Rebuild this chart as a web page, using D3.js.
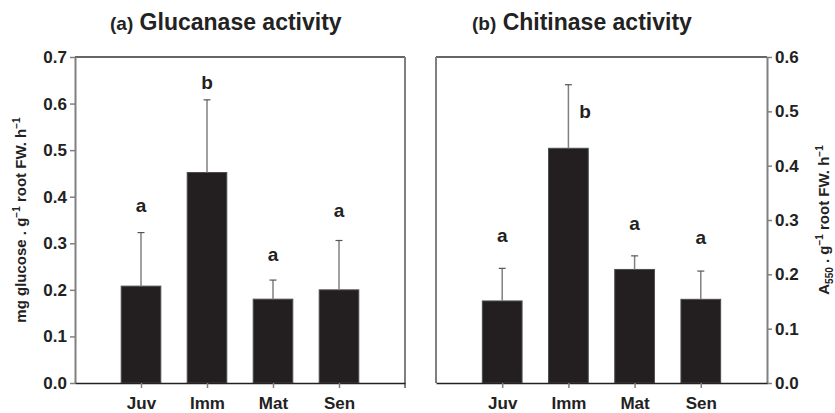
<!DOCTYPE html>
<html>
<head>
<meta charset="utf-8">
<script src="https://cdn.jsdelivr.net/npm/d3@7"></script>
<style>
  body { margin: 0; background: #fff; }
  svg { font-family: "Liberation Sans", Arial, sans-serif; font-weight: bold; }
</style>
</head>
<body>
<svg id="chart" width="835" height="413"></svg>
<script>
const categories = ["Juv", "Imm", "Mat", "Sen"];

// (a) glucanase
const glucMean = [0.208, 0.452, 0.18, 0.2];
const glucErr = [0.323, 0.608, 0.221, 0.306];
const glucLetters = ["a", "b", "a", "a"];
const glucLetterY = [0.367, 0.631, 0.262, 0.356];
const glucTicks = [0, 0.1, 0.2, 0.3, 0.4, 0.5, 0.6, 0.7];

// (b) chitinase
const chitMean = [0.151, 0.432, 0.209, 0.154];
const chitErr = [0.211, 0.549, 0.234, 0.206];
const chitLetters = ["a", "b", "a", "a"];
const chitLetterY = [0.26, 0.488, 0.282, 0.256];
const chitLetterDx = [0, 0.25, 0, 0];
const chitTicks = [0, 0.1, 0.2, 0.3, 0.4, 0.5, 0.6];

const svg = d3.select("#chart");

const plotTop = 57, plotBottom = 383;

function drawPanel(opts) {
  const x = d3.scaleLinear().domain([0, 5]).range([opts.left, opts.right]);
  const y = d3.scaleLinear().domain([0, opts.max]).range([plotBottom, plotTop]);
  const g = svg.append("g");
  const barW = x(0.6) - x(0);

  // frame
  g.append("line")
    .attr("x1", opts.left).attr("x2", opts.right)
    .attr("y1", plotTop).attr("y2", plotTop)
    .attr("stroke", "#333").attr("stroke-width", 1.5);
  const sideX = opts.side === "left" ? opts.right : opts.left;
  g.append("line")
    .attr("x1", sideX).attr("x2", sideX)
    .attr("y1", plotTop).attr("y2", opts.side === "left" ? plotBottom + 5 : plotBottom)
    .attr("stroke", "#808080").attr("stroke-width", 2);

  // bars
  g.selectAll(".bar")
    .data(opts.mean)
    .join("rect")
    .attr("class", "bar")
    .attr("x", (d, i) => x(i + 1) - barW / 2)
    .attr("width", barW)
    .attr("y", (d) => y(d))
    .attr("height", (d) => y(0) - y(d))
    .attr("fill", "#231f20")
    .attr("stroke", "#4d4d4d")
    .attr("stroke-width", 1);

  // error bars (upper only)
  g.selectAll(".err")
    .data(opts.err)
    .join("line")
    .attr("class", "err")
    .attr("x1", (d, i) => x(i + 1)).attr("x2", (d, i) => x(i + 1))
    .attr("y1", (d, i) => y(opts.mean[i])).attr("y2", (d) => y(d))
    .attr("stroke", "#808080").attr("stroke-width", 1.5);
  g.selectAll(".cap")
    .data(opts.err)
    .join("line")
    .attr("class", "cap")
    .attr("x1", (d, i) => x(i + 1) - 3.5).attr("x2", (d, i) => x(i + 1) + 3.5)
    .attr("y1", (d) => y(d)).attr("y2", (d) => y(d))
    .attr("stroke", "#555").attr("stroke-width", 1.2);

  // significance letters
  g.selectAll(".letter")
    .data(opts.letters)
    .join("text")
    .attr("class", "letter")
    .attr("x", (d, i) => x(i + 1 + (opts.letterDx ? opts.letterDx[i] : 0)))
    .attr("y", (d, i) => y(opts.letterY[i]))
    .attr("text-anchor", "middle")
    .attr("font-size", 19)
    .attr("fill", "#222")
    .text((d) => d);

  // y axis
  const yAxis = (opts.side === "left" ? d3.axisLeft(y) : d3.axisRight(y))
    .tickValues(opts.ticks)
    .tickFormat(d3.format(".1f"))
    .tickSize(5)
    .tickPadding(3)
    .tickSizeOuter(0);
  const ya = g.append("g")
    .attr("transform", `translate(${opts.side === "left" ? opts.left : opts.right},0)`)
    .call(yAxis);
  ya.select(".domain").attr("stroke", "#808080").attr("stroke-width", 2);
  ya.selectAll(".tick line").attr("stroke", "#808080").attr("stroke-width", 1.5);
  ya.selectAll(".tick text")
    .attr("font-size", 17)
    .attr("font-family", "Liberation Sans, Arial, sans-serif")
    .attr("font-weight", "bold")
    .attr("fill", "#222");

  // x axis
  const xAxis = d3.axisBottom(x)
    .tickValues([1, 2, 3, 4])
    .tickFormat((d) => categories[d - 1])
    .tickSize(5)
    .tickPadding(9)
    .tickSizeOuter(0);
  const xa = g.append("g")
    .attr("transform", `translate(0,${plotBottom})`)
    .call(xAxis);
  xa.select(".domain").attr("stroke", "#222").attr("stroke-width", 1.5);
  xa.selectAll(".tick line").attr("stroke", "#808080").attr("stroke-width", 1.5);
  xa.selectAll(".tick text")
    .attr("font-size", 17)
    .attr("font-family", "Liberation Sans, Arial, sans-serif")
    .attr("font-weight", "bold")
    .attr("fill", "#222");

  // title
  const t = svg.append("text")
    .attr("x", opts.titleX)
    .attr("y", 30)
    .attr("fill", "#222");
  t.append("tspan").attr("font-size", 19).text(opts.tag);
  t.append("tspan").attr("font-size", 23).text(" " + opts.title);

  return { x, y };
}

drawPanel({
  left: 75, right: 405, max: 0.7, side: "left",
  mean: glucMean, err: glucErr, letters: glucLetters, letterY: glucLetterY,
  ticks: glucTicks, tag: "(a)", title: "Glucanase activity", titleX: 110
});

drawPanel({
  left: 436, right: 767, max: 0.6, side: "right",
  mean: chitMean, err: chitErr, letters: chitLetters, letterY: chitLetterY,
  letterDx: chitLetterDx,
  ticks: chitTicks, tag: "(b)", title: "Chitinase activity", titleX: 472
});

// y axis labels
const yLabelA = svg.append("text")
  .attr("transform", "translate(26,220) rotate(-90)")
  .attr("text-anchor", "middle")
  .attr("font-size", 15)
  .attr("fill", "#222");
yLabelA.append("tspan").text("mg glucose . g");
yLabelA.append("tspan").attr("font-size", 10).attr("dy", -6).text("\u22121");
yLabelA.append("tspan").attr("dy", 6).text(" root FW. h");
yLabelA.append("tspan").attr("font-size", 10).attr("dy", -6).text("\u22121");

const yLabelB = svg.append("text")
  .attr("transform", "translate(829,220) rotate(-90)")
  .attr("text-anchor", "middle")
  .attr("font-size", 15)
  .attr("fill", "#222");
yLabelB.append("tspan").text("A");
yLabelB.append("tspan").attr("font-size", 10).attr("dy", 4).text("550");
yLabelB.append("tspan").attr("dy", -4).text(" . g");
yLabelB.append("tspan").attr("font-size", 10).attr("dy", -6).text("\u22121");
yLabelB.append("tspan").attr("dy", 6).text(" root FW. h");
yLabelB.append("tspan").attr("font-size", 10).attr("dy", -6).text("\u22121");
</script>
</body>
</html>
